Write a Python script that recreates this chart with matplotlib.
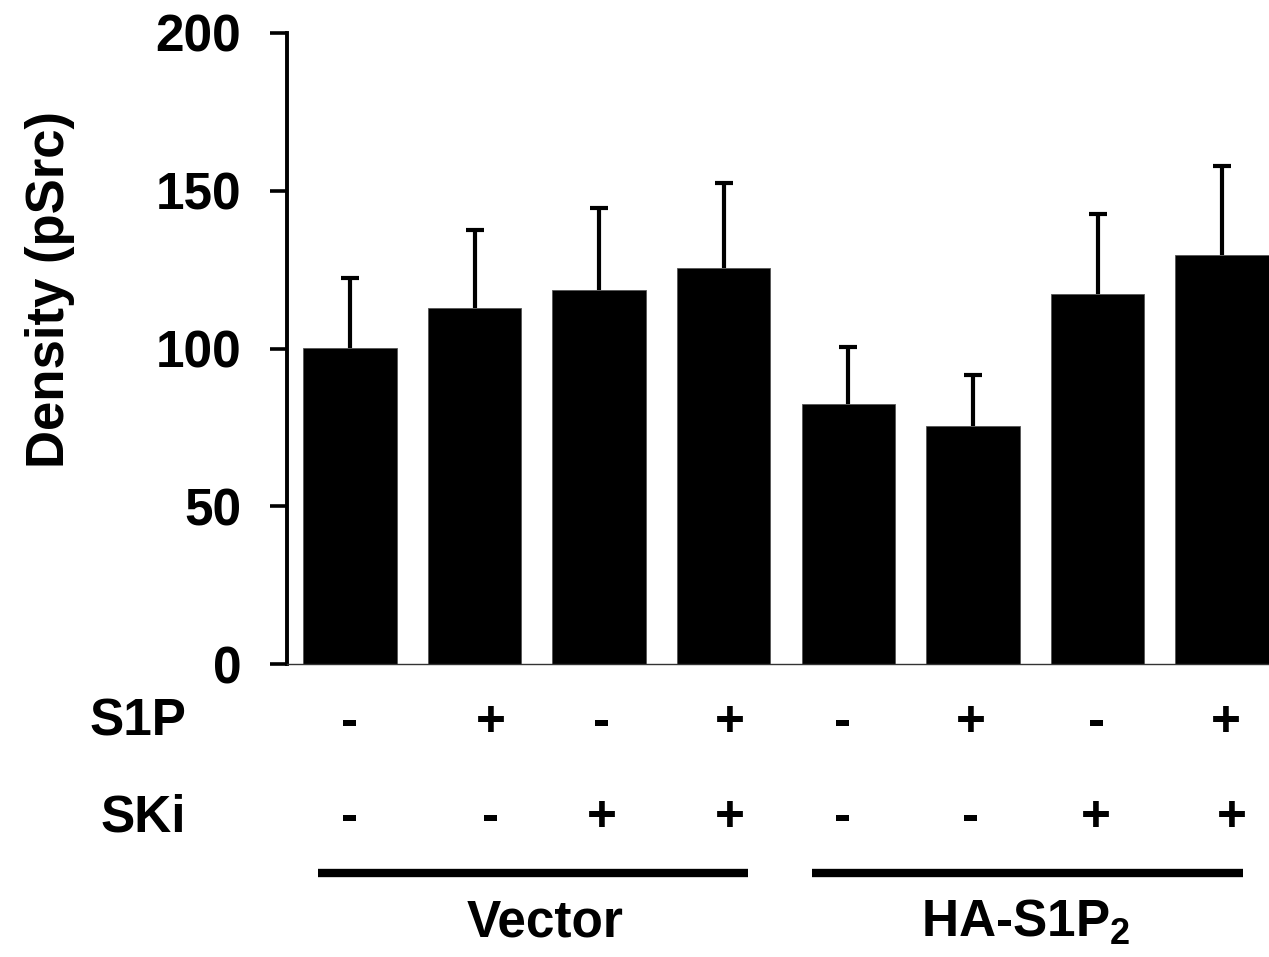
import matplotlib
matplotlib.use("Agg")
from matplotlib import pyplot as plt
from matplotlib import transforms
import numpy as np

plt.rcParams["font.family"] = ["Liberation Sans", "DejaVu Sans"]
plt.rcParams["font.weight"] = "bold"
plt.rcParams["mathtext.fontset"] = "custom"
plt.rcParams["mathtext.rm"] = "Liberation Sans:bold"
plt.rcParams["mathtext.bf"] = "Liberation Sans:bold"

# data
means = [100.2, 112.8, 118.5, 125.5, 82.4, 75.4, 117.3, 129.6]
errors = [22.1, 24.8, 26.0, 27.0, 18.1, 16.2, 25.3, 28.2]
s1p = ["-", "+", "-", "+", "-", "+", "-", "+"]
ski = ["-", "-", "+", "+", "-", "-", "+", "+"]
groups = ["Vector", r"HA-S1P$_{\mathbf{2}}$"]
yticks = [0, 50, 100, 150, 200]

fs = 37

fig = plt.figure(figsize=(12.69, 9.57), dpi=100, facecolor="white")
ax = fig.add_axes([287 / 1269, 1 - 664 / 957, 1 - 287 / 1269, 631 / 957])

xs = np.arange(len(means))
ax.bar(xs, means, width=0.75, color="black", edgecolor="#555555", linewidth=0.6, zorder=2)
_, caps, _ = ax.errorbar(xs, means, yerr=[np.zeros(len(errors)), errors], fmt="none",
                         ecolor="black", elinewidth=3, capsize=6.5, capthick=3, zorder=1)
caps[0].set_visible(False)  # only the upper cap

ax.set_xlim(-0.505, 7.376)
ax.set_ylim(0, 200)
ax.set_yticks(yticks)
ax.set_xticks([])
ax.tick_params(axis="y", length=12, width=2.6, pad=21, labelsize=fs, direction="out")
for lab in ax.get_yticklabels():
    lab.set_fontweight("bold")

for side in ["top", "right"]:
    ax.spines[side].set_visible(False)
ax.spines["left"].set_linewidth(2.8)
ax.spines["bottom"].set_linewidth(1.0)
ax.spines["bottom"].set_color("#333333")

# +/- columns sit slightly off the bar centres in the original layout
col_shift = [0.0, 0.13, 0.02, 0.05, -0.05, -0.02, -0.01, 0.03]
trans = transforms.blended_transform_factory(ax.transData, ax.transAxes)
for i in range(len(means)):
    ax.text(xs[i] + col_shift[i], -0.092, s1p[i], transform=trans, ha="center", va="center",
            fontsize=fs, fontweight="bold", clip_on=False)
    ax.text(xs[i] + col_shift[i] + (0.05 if i == 7 else 0), -0.244, ski[i], transform=trans,
            ha="center", va="center", fontsize=fs, fontweight="bold", clip_on=False)

fig.text(186 / 1269, 1 - 722 / 957, "S1P", ha="right", va="center", fontsize=fs, fontweight="bold")
fig.text(186 / 1269, 1 - 818 / 957, "SKi", ha="right", va="center", fontsize=fs, fontweight="bold")

# group lines
ax.plot([-0.257, 3.194], [-0.331, -0.331], transform=trans, color="black", lw=6,
        solid_capstyle="butt", clip_on=False)
ax.plot([3.708, 7.167], [-0.331, -0.331], transform=trans, color="black", lw=6,
        solid_capstyle="butt", clip_on=False)
ax.text(1.565, -0.41, groups[0], transform=trans, ha="center", va="center",
        fontsize=fs, fontweight="bold", clip_on=False)
ax.text(5.42, -0.41, groups[1], transform=trans, ha="center", va="center",
        fontsize=fs, fontweight="bold", clip_on=False)

fig.text(50 / 1269, 1 - 290 / 957, "Density (pSrc)", rotation=90, ha="center", va="center",
         fontsize=38, fontweight="bold")

plt.savefig("out.png", dpi=100, facecolor="white")
plt.close()
